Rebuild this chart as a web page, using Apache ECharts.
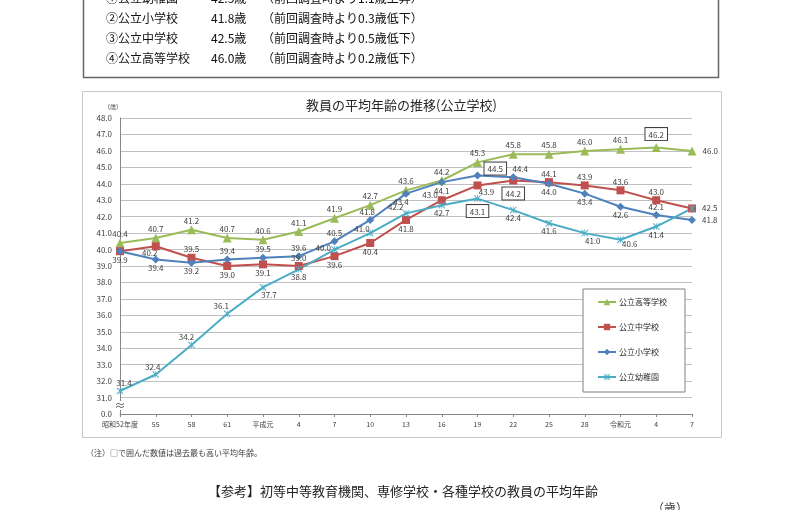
<!DOCTYPE html>
<html>
<head>
<meta charset="utf-8">
<title>教員の平均年齢の推移</title>
<script src="https://cdn.jsdelivr.net/npm/echarts@6.0.0/dist/echarts.min.js"></script>
<style>
  html,body{margin:0;padding:0;background:#fff;}
  #main{width:790px;height:510px;}
</style>
</head>
<body>
<div id="main"></div>
<script>
// 調査年度
const years = ['昭和52年度','55','58','61','平成元','4','7','10','13','16','19','22','25','28','令和元','4','7']
// 平均年齢（歳）
const koutou = [40.4,40.7,41.2,40.7,40.6,41.1,41.9,42.7,43.6,44.2,45.3,45.8,45.8,46.0,46.1,46.2,46.0]
const chuugaku = [39.9,40.2,39.5,39.0,39.1,39.0,39.6,40.4,41.8,43.0,43.9,44.2,44.1,43.9,43.6,43.0,42.5]
const shougaku = [39.9,39.4,39.2,39.4,39.5,39.6,40.5,41.8,43.4,44.1,44.5,44.4,44.0,43.4,42.6,42.1,41.8]
const youchien = [31.4,32.4,34.2,36.1,37.7,38.8,40.0,41.0,42.2,42.7,43.1,42.4,41.6,41.0,40.6,41.4,42.5]
const seriesNames = ['公立高等学校','公立中学校','公立小学校','公立幼稚園']
// 縦軸（31.0の下は省略して0.0）
const yMin = 30, yMax = 48, yStep = 1

const font = '"Noto Sans CJK JP", "Noto Sans", sans-serif'
const txt = '#404040'

//過去最高の値は枠で囲む
const boxed = {borderColor:'#404040', borderWidth:1, padding:[2,3,1,3], backgroundColor:'#fff'}
const box = (o) => Object.assign({}, o, boxed)

//ラベル位置の個別指定
const posKoutou = {
  15: box({position:'top', distance:3}),
  16: {position:'right', distance:6}
}
const posChuu = {
  0: {show:false},
  1: {position:'bottom', offset:[-6,-2]},
  2: {position:'top'}, 5: {position:'top'},
  9: {position:'left', offset:[0,-5]},
  10: {position:'bottom', offset:[9,-2]},
  11: box({position:'bottom', distance:3}),
  12: {position:'top'}, 13: {position:'top'}, 14: {position:'top'}, 15: {position:'top'},
  16: {position:'right', distance:6}
}
const posShou = {
  3: {position:'top'}, 4: {position:'top'}, 5: {position:'top'}, 6: {position:'top'}, 7: {position:'top', offset:[-3,0]},
  8: {position:'bottom', offset:[-5,0]},
  10: box({position:'right', distance:3, offset:[0,-7]}),
  11: {position:'top', offset:[7,0]},
  15: {position:'top'},
  16: {position:'right', distance:6}
}
const posYou = {
  0: {position:'top', offset:[4,0]}, 1: {position:'top', offset:[-3,0]}, 2: {position:'top', offset:[-5,0]}, 3: {position:'top', offset:[-6,0]},
  4: {position:'bottom', offset:[6,0]},
  6: {position:'left', offset:[0,-2]},
  7: {position:'left', offset:[3,-4]},
  8: {position:'left', offset:[1,-6]},
  10: box({position:'bottom', distance:3}),
  13: {position:'bottom', offset:[8,0]},
  14: {position:'right', offset:[-2,4]},
  16: {show:false}
}

function build(values, pos){
  return values.map((v,i)=> pos[i] ? {value:v, label:pos[i]} : v)
}

const xMark = 'path://M0,1L1,0L5,4L9,0L10,1L6,5L10,9L9,10L5,6L1,10L0,9L4,5Z M4.5,0L5.5,0L5.5,10L4.5,10Z'

function line(name, values, pos, color, symbol, size, defPos){
  return {
    name: name,
    type: 'line',
    data: build(values, pos),
    symbol: symbol,
    symbolSize: size,
    lineStyle: {color: color, width: 2},
    itemStyle: {color: color},
    label: {
      show: true,
      position: defPos,
      distance: 0,
      fontSize: 8,
      lineHeight: 9,
      color: txt,
      fontFamily: font,
      formatter: p => Number(p.value).toFixed(1)
    },
    emphasis: {disabled: true},
    animation: false
  }
}

const chart = echarts.init(document.getElementById('main'))

const topLines = [
  ['①公立幼稚園','42.5歳','（前回調査時より1.1歳上昇）'],
  ['②公立小学校','41.8歳','（前回調査時より0.3歳低下）'],
  ['③公立中学校','42.5歳','（前回調査時より0.5歳低下）'],
  ['④公立高等学校','46.0歳','（前回調査時より0.2歳低下）']
]
const graphics = [
  {type:'rect', shape:{x:83.5, y:-10, width:635, height:87.5}, style:{fill:'none', stroke:'#666', lineWidth:1.5}},
  {type:'rect', shape:{x:82.5, y:91.5, width:639, height:346}, style:{fill:'none', stroke:'#c8c8c8', lineWidth:1}},
  {type:'text', style:{text:'（歳）', x:113, y:107, font:'6px ' + font, fill:txt, textAlign:'center', textVerticalAlign:'middle'}},
  {type:'rect', z:100, shape:{x:116, y:401, width:8, height:9}, style:{fill:'#fff'}},
  {type:'text', z:101, style:{text:'≈', x:120, y:405.5, font:'11px ' + font, fill:'#555', textAlign:'center', textVerticalAlign:'middle'}},
  {type:'text', style:{text:'（注）□で囲んだ数値は過去最も高い平均年齢。', x:86, y:453, font:'8px ' + font, fill:txt, textVerticalAlign:'middle'}},
  {type:'text', style:{text:'【参考】初等中等教育機関、専修学校・各種学校の教員の平均年齢', x:403, y:491, font:'13px ' + font, fill:'#222', textAlign:'center', textVerticalAlign:'middle'}},
  {type:'text', style:{text:'（歳）', x:652, y:508, font:'12px ' + font, fill:txt, textVerticalAlign:'middle'}}
]
topLines.forEach((l,i)=>{
  const y = -2 + i*20
  graphics.push({type:'text', style:{text:l[0], x:106, y:y, font:'12px ' + font, fill:'#111', textVerticalAlign:'middle'}})
  graphics.push({type:'text', style:{text:l[1], x:211, y:y, font:'12px ' + font, fill:'#111', textVerticalAlign:'middle'}})
  graphics.push({type:'text', style:{text:l[2], x:262, y:y, font:'12px ' + font, fill:'#111', textVerticalAlign:'middle'}})
})

const option = {
  backgroundColor: '#fff',
  animation: false,
  textStyle: {fontFamily: font},
  title: {
    text: '教員の平均年齢の推移(公立学校)',
    left: 306,
    top: 99,
    padding: 0,
    textStyle: {fontSize: 13, fontWeight: 'normal', color: '#262626', fontFamily: font}
  },
  legend: {
    orient: 'vertical',
    left: 583,
    top: 289,
    data: seriesNames,
    itemWidth: 18,
    itemHeight: 8,
    itemGap: 15,
    padding: [8,18,10,14],
    backgroundColor: '#fff',
    borderColor: '#808080',
    borderWidth: 1,
    borderRadius: 0,
    textStyle: {fontSize: 8, lineHeight: 10, color: '#262626', fontFamily: font, padding:[0,0,0,-2]}
  },
  grid: {left: 120, right: 98, top: 118, bottom: 96},
  xAxis: {
    type: 'category',
    data: years,
    boundaryGap: false,
    axisLine: {lineStyle: {color: '#868686'}},
    axisTick: {show: true, length: 3, lineStyle: {color: '#868686'}},
    axisLabel: {fontSize: 7, color: txt, margin: 7, interval: 0, fontFamily: font}
  },
  yAxis: {
    type: 'value',
    min: yMin,
    max: yMax,
    interval: yStep,
    axisLine: {show: true, lineStyle: {color: '#868686'}},
    axisTick: {show: false},
    splitLine: {lineStyle: {color: '#c0c0c0', width: 1}},
    axisLabel: {
      fontSize: 8, color: txt, margin: 8, fontFamily: font,
      formatter: v => v === yMin ? '0.0' : v.toFixed(1)
    }
  },
  graphic: graphics,
  series: [
    line(seriesNames[0], koutou, posKoutou, '#9BBB59', 'triangle', 9, 'top'),
    line(seriesNames[1], chuugaku, posChuu, '#C0504D', 'rect', 8, 'bottom'),
    line(seriesNames[2], shougaku, posShou, '#4F81BD', 'diamond', 8, 'bottom'),
    line(seriesNames[3], youchien, posYou, '#4BACC6', xMark, 7, 'bottom')
  ]
}
chart.setOption(option)
</script>
</body>
</html>
